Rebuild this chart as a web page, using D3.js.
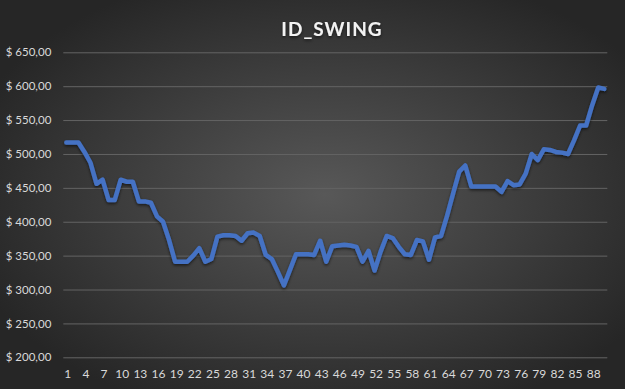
<!DOCTYPE html>
<html>
<head>
<meta charset="utf-8">
<script src="https://cdn.jsdelivr.net/npm/d3@7"></script>
<style>
  html, body { margin: 0; padding: 0; background: #262626; }
  svg { display: block; }
  text { font-family: Lato, "Open Sans", sans-serif; }
</style>
</head>
<body>
<svg id="chart" width="625" height="389"></svg>
<script>
// ID_SWING values, one per day (1..90)
const days = d3.range(1, 91);
const swingValues = [
  517, 517, 517, 503, 487, 456, 462, 432, 432, 462,
  459, 459, 430, 430, 428, 408, 400, 373, 341, 341,
  341, 350, 361, 341, 345, 378, 380, 380, 379, 372,
  383, 384, 379, 351, 345, 326, 306, 329, 352, 352,
  352, 351, 372, 341, 364, 365, 366, 365, 363, 341,
  357, 328, 356, 379, 376, 363, 352, 351, 373, 371,
  344, 377, 379, 409, 442, 474, 483, 452, 452, 452,
  452, 452, 444, 460, 454, 455, 471, 500, 491, 507,
  506, 503, 502, 500, 520, 542, 542, 572, 598, 596
];
const yTicks = [200, 250, 300, 350, 400, 450, 500, 550, 600, 650];
const xTickLabels = days.filter(d => (d - 1) % 3 === 0);
const chartTitle = 'ID_SWING';

const width = 625, height = 389;
const margin = { top: 52.3, right: 17.7, bottom: 31.7, left: 63.3 };

const svg = d3.select('#chart');
const defs = svg.append('defs');

// background gradient
const bg = defs.append('radialGradient')
  .attr('id', 'bg')
  .attr('cx', '52%').attr('cy', '50%').attr('r', '60%');
bg.append('stop').attr('offset', '0%').attr('stop-color', '#585858');
bg.append('stop').attr('offset', '100%').attr('stop-color', '#262626');

const shadow = defs.append('filter').attr('id', 'shadow')
  .attr('x', '-10%').attr('y', '-10%').attr('width', '120%').attr('height', '130%');
shadow.append('feDropShadow')
  .attr('dx', 0).attr('dy', 1.5).attr('stdDeviation', 1.5)
  .attr('flood-color', '#000').attr('flood-opacity', 0.6);

svg.append('rect')
  .attr('width', width).attr('height', height)
  .attr('fill', 'url(#bg)');

const x = d3.scaleBand()
  .domain(days)
  .range([margin.left, width - margin.right])
  .padding(0);

const y = d3.scaleLinear()
  .domain([200, 650])
  .range([height - margin.bottom, margin.top]);

const locale = d3.formatLocale({
  decimal: ',', thousands: '.', grouping: [3], currency: ['$ ', '']
});
const money = locale.format('$,.2f');

// grid + y labels
const yAxis = svg.append('g')
  .attr('transform', `translate(${margin.left},0)`)
  .call(d3.axisLeft(y)
    .tickValues(yTicks)
    .tickSize(-(width - margin.left - margin.right))
    .tickPadding(12)
    .tickFormat(money));
yAxis.select('.domain').remove();
yAxis.selectAll('line').attr('stroke', '#646464').attr('stroke-width', 1);
yAxis.selectAll('text')
  .attr('fill', '#d9d9d9')
  .attr('font-size', 11.5);

// x labels
const xAxis = svg.append('g')
  .attr('transform', `translate(1.5,${height - margin.bottom})`)
  .call(d3.axisBottom(x)
    .tickValues(xTickLabels)
    .tickSize(0)
    .tickPadding(12));
xAxis.select('.domain').remove();
xAxis.selectAll('text')
  .attr('fill', '#d9d9d9')
  .attr('font-size', 12);

// line
const line = d3.line()
  .x((d, i) => x(days[i]) + x.bandwidth() / 2)
  .y(d => y(d));

svg.append('path')
  .datum(swingValues)
  .attr('fill', 'none')
  .attr('stroke', '#4472c4')
  .attr('stroke-width', 4.5)
  .attr('stroke-linejoin', 'round')
  .attr('stroke-linecap', 'round')
  .attr('filter', 'url(#shadow)')
  .attr('d', line);

// title
svg.append('text')
  .attr('x', 332)
  .attr('y', 36)
  .attr('text-anchor', 'middle')
  .attr('fill', '#f2f2f2')
  .attr('font-size', 19)
  .attr('font-weight', 'bold')
  .attr('letter-spacing', 1)
  .attr('filter', 'url(#shadow)')
  .text(chartTitle);
</script>
</body>
</html>
